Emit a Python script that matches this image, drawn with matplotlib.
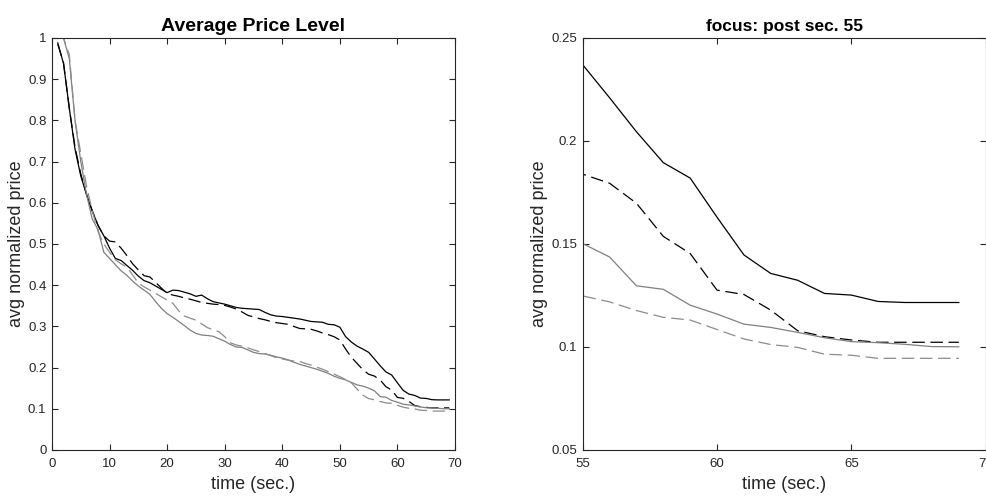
import matplotlib
matplotlib.use('Agg')
import matplotlib.pyplot as plt
from matplotlib.ticker import FuncFormatter
import numpy as np

plt.rcParams['font.family'] = ['Liberation Sans', 'DejaVu Sans']

t = list(range(1, 70))

# black solid
black_solid = [0.988, 0.938, 0.83, 0.73, 0.665, 0.62, 0.58, 0.545, 0.52, 0.49,
               0.465, 0.46, 0.448, 0.436, 0.422, 0.411, 0.406, 0.398, 0.39, 0.382,
               0.388, 0.387, 0.383, 0.379, 0.373, 0.376, 0.367, 0.36, 0.357, 0.354,
               0.35, 0.346, 0.344, 0.343, 0.342, 0.341, 0.334, 0.328, 0.325, 0.324,
               0.322, 0.32, 0.318, 0.315, 0.312, 0.311, 0.31, 0.305, 0.304, 0.298,
               0.275, 0.262, 0.252, 0.245, 0.237, 0.221, 0.2045, 0.1895, 0.182, 0.163,
               0.1447, 0.1357, 0.1324, 0.126, 0.1252, 0.1221, 0.1216, 0.1216, 0.1216]
# black dashed
black_dash = [0.985, 0.94, 0.83, 0.735, 0.67, 0.62, 0.58, 0.545, 0.52, 0.507,
              0.505, 0.49, 0.472, 0.452, 0.437, 0.423, 0.42, 0.407, 0.393, 0.38,
              0.376, 0.373, 0.369, 0.366, 0.362, 0.358, 0.356, 0.354, 0.353, 0.351,
              0.347, 0.342, 0.335, 0.327, 0.323, 0.319, 0.316, 0.312, 0.309, 0.307,
              0.305, 0.3, 0.295, 0.294, 0.293, 0.289, 0.284, 0.28, 0.275, 0.267,
              0.245, 0.225, 0.21, 0.195, 0.1839, 0.1795, 0.1698, 0.1537, 0.1454, 0.1276,
              0.1255, 0.1179, 0.1079, 0.105, 0.1034, 0.1023, 0.1023, 0.1023, 0.1023]
# gray solid
gray_solid = [1.0, 1.0, 0.95, 0.8, 0.7, 0.62, 0.56, 0.535, 0.48, 0.465,
              0.45, 0.435, 0.424, 0.41, 0.398, 0.388, 0.378, 0.36, 0.344, 0.331,
              0.322, 0.312, 0.302, 0.291, 0.283, 0.279, 0.278, 0.276, 0.27, 0.264,
              0.256, 0.25, 0.249, 0.243, 0.237, 0.234, 0.233, 0.23, 0.226, 0.223,
              0.219, 0.213, 0.208, 0.204, 0.2, 0.196, 0.191, 0.186, 0.179, 0.174,
              0.17, 0.164, 0.158, 0.155, 0.1502, 0.1437, 0.1297, 0.128, 0.1203, 0.116,
              0.1111, 0.1095, 0.1071, 0.1045, 0.1026, 0.1021, 0.1013, 0.1002, 0.1001]
# gray dashed
gray_dash = [1.0, 1.0, 0.96, 0.8, 0.72, 0.64, 0.58, 0.53, 0.5, 0.48,
             0.462, 0.452, 0.444, 0.425, 0.405, 0.396, 0.388, 0.38, 0.372, 0.364,
             0.356, 0.338, 0.325, 0.32, 0.315, 0.306, 0.297, 0.292, 0.287, 0.275,
             0.26, 0.255, 0.252, 0.248, 0.243, 0.239, 0.234, 0.229, 0.224, 0.221,
             0.218, 0.216, 0.215, 0.21, 0.206, 0.201, 0.196, 0.19, 0.184, 0.178,
             0.171, 0.163, 0.148, 0.133, 0.1248, 0.1219, 0.1177, 0.1144, 0.1131, 0.1085,
             0.1039, 0.1012, 0.0998, 0.0965, 0.096, 0.0945, 0.0945, 0.0945, 0.0945]

dash = (0, (10, 4.5))
series = [(black_solid, 'black', '-'), (black_dash, 'black', dash),
          (gray_solid, '#808080', '-'), (gray_dash, '#8c8c8c', dash)]

fig = plt.figure(figsize=(9.87, 4.96), dpi=100)
ax1 = fig.add_axes([52/987, 1-450/496, (455-52)/987, (450-38)/496])
ax2 = fig.add_axes([582.7/987, 1-450/496, (985.7-582.7)/987, (450-38)/496])

fmt = FuncFormatter(lambda v, p: '%g' % round(v, 4))
tc = '#262626'

for ax in (ax1, ax2):
    for y, c, ls in series:
        ax.plot(t, y, color=c, linestyle=ls, linewidth=0.9)
    ax.tick_params(direction='in', top=True, right=True, length=4, width=0.8,
                   labelsize=9.5, colors=tc)
    ax.tick_params(axis='x', pad=6)
    ax.tick_params(axis='y', pad=4)
    for s in ax.spines.values():
        s.set_linewidth(0.8)
        s.set_color(tc)
    ax.xaxis.set_major_formatter(fmt)
    ax.yaxis.set_major_formatter(fmt)
    ax.set_xlabel('time (sec.)', fontsize=13, color=tc, labelpad=4)
    ax.set_ylabel('avg normalized price', fontsize=13, color=tc, labelpad=2)

ax1.set_xlim(0, 70)
ax1.set_ylim(0, 1)
ax1.set_xticks(np.arange(0, 71, 10))
ax1.set_yticks(np.arange(0, 1.01, 0.1))
ax1.set_title('Average Price Level', fontsize=14, fontweight='bold', pad=5)

ax2.set_xlim(55, 70)
ax2.set_ylim(0.05, 0.25)
ax2.set_xticks([55, 60, 65, 70])
ax2.set_yticks([0.05, 0.1, 0.15, 0.2, 0.25])
ax2.set_title('focus: post sec. 55', fontsize=12.5, fontweight='bold', pad=5)

fig.savefig('out.png', dpi=100)
